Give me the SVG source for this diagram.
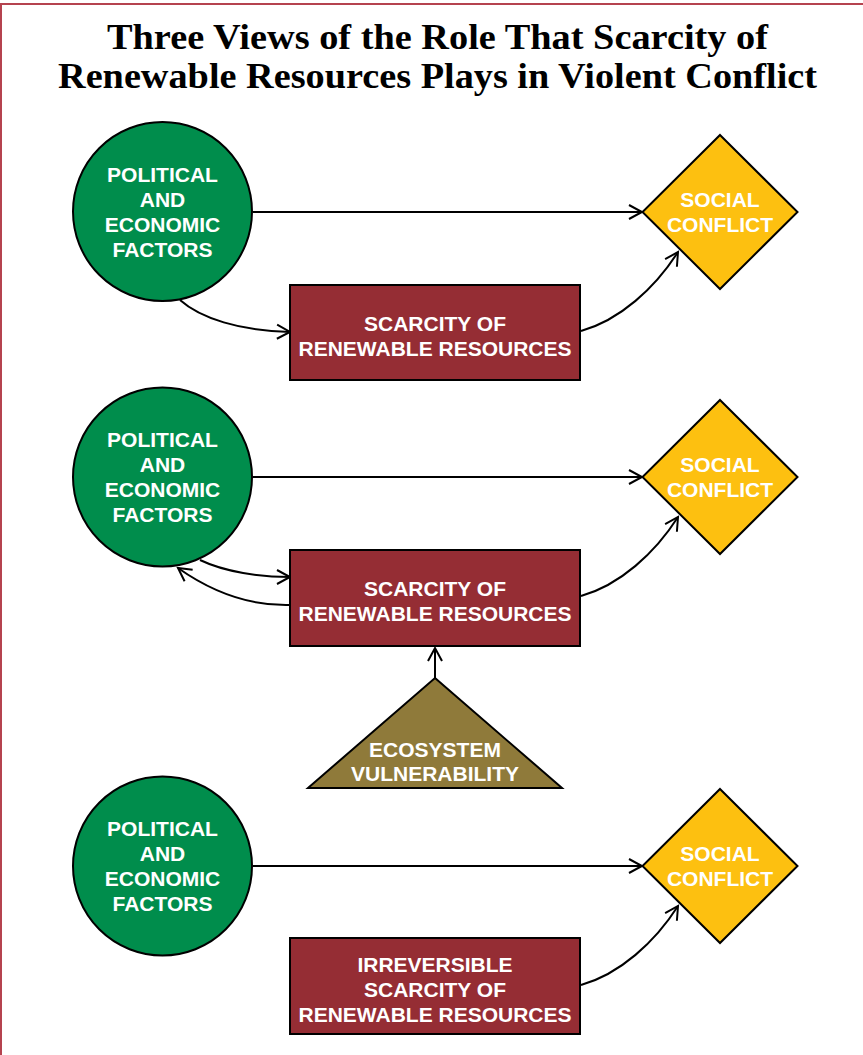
<svg xmlns="http://www.w3.org/2000/svg" width="863" height="1055" viewBox="0 0 863 1055">
<style>
.lbl{font-family:"Liberation Sans",Arial,sans-serif;font-weight:bold;font-size:21px;fill:#ffffff;text-anchor:middle}
.ttl{font-family:"Liberation Serif","Times New Roman",serif;font-weight:bold;font-size:35px;fill:#000000;text-anchor:middle}
.circ{fill:#008d4c;stroke:#000;stroke-width:2}
.box{fill:#952d34;stroke:#000;stroke-width:2}
.dia{fill:#fdc010;stroke:#000;stroke-width:2}
.tri{fill:#8f7a3a;stroke:#000;stroke-width:2}
.con{fill:none;stroke:#000;stroke-width:2;marker-end:url(#ah)}
</style>
<defs>
<marker id="ah" markerUnits="userSpaceOnUse" markerWidth="20" markerHeight="20" viewBox="-14 -10 16 20" refX="0" refY="0" orient="auto">
<path d="M-13,-7 L0,0 L-13,7" fill="none" stroke="#000" stroke-width="2"/>
</marker>
</defs>
<rect x="1" y="4" width="900" height="1100" fill="#ffffff" stroke="#b5434f" stroke-width="2"/>
<g id="title">
<text class="ttl" x="437.5" y="49" textLength="661" lengthAdjust="spacingAndGlyphs">Three Views of the Role That Scarcity of</text>
<text class="ttl" x="437.5" y="88" textLength="759" lengthAdjust="spacingAndGlyphs">Renewable Resources Plays in Violent Conflict</text>
</g>
<g id="connectors">
<path class="con" d="M253,212 L642,212"/>
<path class="con" d="M180,300 C200,318 240,331 290,332"/>
<path class="con" d="M581,331 C620,320 655,288 678,252"/>
<path class="con" d="M253,477 L642,477"/>
<path class="con" d="M200,560 C225,572 260,577 290,577"/>
<path class="con" d="M290,605 C250,606 212,592 178,568"/>
<path class="con" d="M581,596 C620,585 655,553 678,517"/>
<path class="con" d="M435,678 L435,648"/>
<path class="con" d="M253,866 L642,866"/>
<path class="con" d="M581,985 C620,974 655,942 678,906"/>
</g>
<g id="pef1">
<circle class="circ" cx="162.5" cy="211.5" r="89.5"/>
<text class="lbl" x="162.5" y="182">POLITICAL</text>
<text class="lbl" x="162.5" y="207">AND</text>
<text class="lbl" x="162.5" y="232">ECONOMIC</text>
<text class="lbl" x="162.5" y="257">FACTORS</text>
</g>
<g id="scarcity1">
<rect class="box" x="290" y="285" width="290" height="95"/>
<text class="lbl" x="435" y="331">SCARCITY OF</text>
<text class="lbl" x="435" y="356">RENEWABLE RESOURCES</text>
</g>
<g id="conflict1">
<polygon class="dia" points="720,135 797.5,212 720,289 642.5,212"/>
<text class="lbl" x="720" y="207">SOCIAL</text>
<text class="lbl" x="720" y="232">CONFLICT</text>
</g>
<g id="pef2">
<circle class="circ" cx="162.5" cy="477" r="89.5"/>
<text class="lbl" x="162.5" y="447">POLITICAL</text>
<text class="lbl" x="162.5" y="472">AND</text>
<text class="lbl" x="162.5" y="497">ECONOMIC</text>
<text class="lbl" x="162.5" y="522">FACTORS</text>
</g>
<g id="scarcity2">
<rect class="box" x="290" y="550" width="290" height="96"/>
<text class="lbl" x="435" y="596">SCARCITY OF</text>
<text class="lbl" x="435" y="621">RENEWABLE RESOURCES</text>
</g>
<g id="conflict2">
<polygon class="dia" points="720,400 797.5,477 720,554 642.5,477"/>
<text class="lbl" x="720" y="472">SOCIAL</text>
<text class="lbl" x="720" y="497">CONFLICT</text>
</g>
<g id="ecosystem">
<polygon class="tri" points="435,678 562,788 308,788"/>
<text class="lbl" x="435" y="757">ECOSYSTEM</text>
<text class="lbl" x="435" y="781">VULNERABILITY</text>
</g>
<g id="pef3">
<circle class="circ" cx="162.5" cy="866" r="89.5"/>
<text class="lbl" x="162.5" y="836">POLITICAL</text>
<text class="lbl" x="162.5" y="861">AND</text>
<text class="lbl" x="162.5" y="886">ECONOMIC</text>
<text class="lbl" x="162.5" y="911">FACTORS</text>
</g>
<g id="scarcity3">
<rect class="box" x="290" y="938" width="290" height="96"/>
<text class="lbl" x="435" y="972">IRREVERSIBLE</text>
<text class="lbl" x="435" y="997">SCARCITY OF</text>
<text class="lbl" x="435" y="1022">RENEWABLE RESOURCES</text>
</g>
<g id="conflict3">
<polygon class="dia" points="720,789 797.5,866 720,943 642.5,866"/>
<text class="lbl" x="720" y="861">SOCIAL</text>
<text class="lbl" x="720" y="886">CONFLICT</text>
</g>
</svg>
